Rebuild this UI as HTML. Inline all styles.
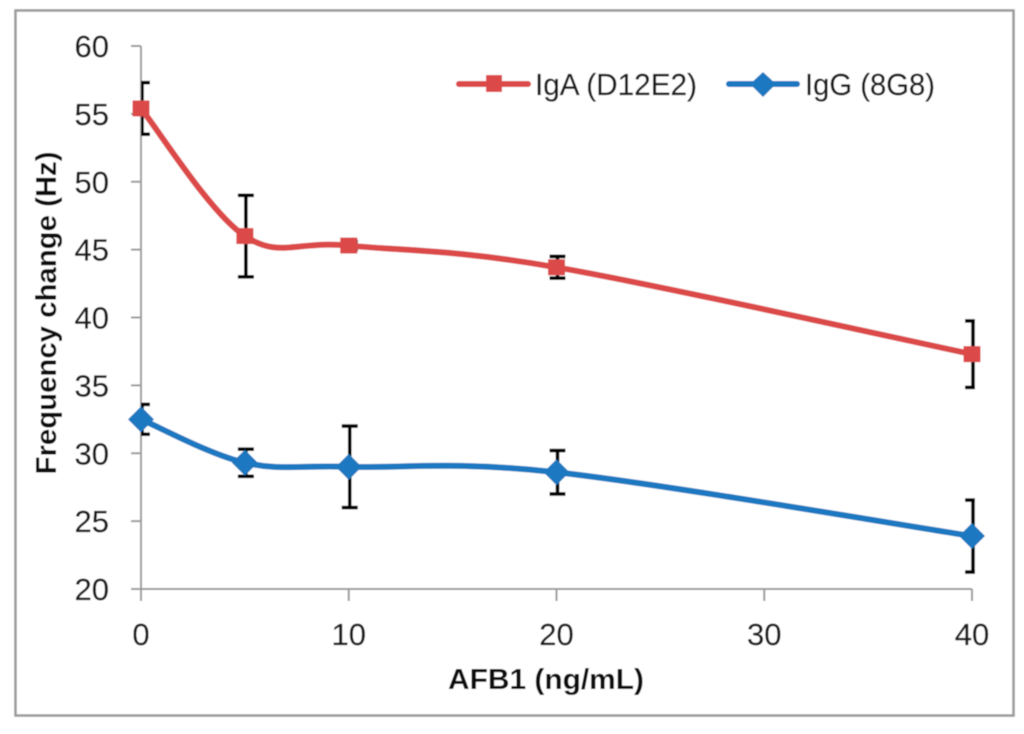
<!DOCTYPE html>
<html>
<head>
<meta charset="utf-8">
<title>Frequency change vs AFB1</title>
<style>
html,body{margin:0;padding:0;background:#fff;width:1024px;height:734px;overflow:hidden}
svg{display:block}
text{font-family:"Liberation Sans",sans-serif;fill:#1a1a1a}
.tick{font-size:31px;stroke:#1a1a1a;stroke-width:0.25px}
.title{font-size:29px;font-weight:bold;fill:#0d0d0d}
.legend{font-size:31px;stroke:#1a1a1a;stroke-width:0.25px}
</style>
</head>
<body>
<svg id="chart" width="1024" height="734" viewBox="0 0 1024 734" xmlns="http://www.w3.org/2000/svg">
  <defs>
    <clipPath id="plot-clip"><rect x="141" y="30" width="834" height="570"/></clipPath>
    <filter id="soft" x="-2%" y="-2%" width="104%" height="104%"><feGaussianBlur stdDeviation="0.55"/></filter>
  </defs>
  <rect x="0" y="0" width="1024" height="734" fill="#ffffff"/>
  <g filter="url(#soft)">
    <rect x="15.5" y="10.5" width="998" height="705" fill="#ffffff" stroke="#9a9a9a" stroke-width="2.5"/>
    <g id="axes"></g>
    <g id="errors" clip-path="url(#plot-clip)"></g>
    <g id="series"></g>
    <text class="title" transform="translate(56,313) rotate(-90)" text-anchor="middle" textLength="323" lengthAdjust="spacingAndGlyphs">Frequency change (Hz)</text>
    <text class="title" x="546" y="689" text-anchor="middle" textLength="196" lengthAdjust="spacingAndGlyphs">AFB1 (ng/mL)</text>
    <g>
      <line x1="459" y1="84" x2="528" y2="84" stroke="#dc4a4a" stroke-width="6" stroke-linecap="round"/>
      <rect x="486" y="75" width="16" height="17" fill="#dc4a4a"/>
      <text class="legend" x="535" y="95" textLength="162" lengthAdjust="spacingAndGlyphs">IgA (D12E2)</text>
      <line x1="729" y1="84" x2="797" y2="84" stroke="#1f78c0" stroke-width="6" stroke-linecap="round"/>
      <polygon points="763,72 776,84 763,97 750,84" fill="#1f78c0"/>
      <text class="legend" x="805" y="95" textLength="130" lengthAdjust="spacingAndGlyphs">IgG (8G8)</text>
    </g>
  </g>
</svg>
<script>
var doses = [0, 5, 10, 20, 40];
var igaValues = [55.4, 46, 45.3, 43.7, 37.3];
var igaErrors = [1.9, 3, 0.3, 0.8, 2.45];
var iggValues = [32.5, 29.3, 29, 28.6, 23.9];
var iggErrors = [1.1, 1, 3, 1.6, 2.65];
var xTicks = [0, 10, 20, 30, 40];
var yTicks = [20, 25, 30, 35, 40, 45, 50, 55, 60];

var NS = 'http://www.w3.org/2000/svg';
function xScale(v) { return 141 + (v - 0) * (972 - 141) / 40; }
function yScale(v) { return 589 - (v - 20) * (589 - 46) / 40; }
function make(tag, attrs, parent) {
  var el = document.createElementNS(NS, tag);
  for (var k in attrs) el.setAttribute(k, attrs[k]);
  parent.appendChild(el);
  return el;
}
var axes = document.getElementById('axes');
var errors = document.getElementById('errors');
var series = document.getElementById('series');
var axisStyle = { stroke: '#9b9b9b', 'stroke-width': 2 };
function line(x1, y1, x2, y2, parent, style) {
  var attrs = { x1: x1, y1: y1, x2: x2, y2: y2 };
  for (var k in style) attrs[k] = style[k];
  return make('line', attrs, parent);
}

var yAxis = line(xScale(0), yScale(60), xScale(0), yScale(20), axes, axisStyle);


var xAxis = line(xScale(0), yScale(20), xScale(40), yScale(20), axes, axisStyle);



yTicks.forEach(function (t) {
  var m = line(131, yScale(t), xScale(0), yScale(t), axes, axisStyle);
  
  
  var l = make('text', { x: 109, y: yScale(t) + 11, 'text-anchor': 'end', 'class': 'tick' }, axes);
  
  
  l.textContent = t;
});
xTicks.forEach(function (t) {
  var m = line(xScale(t), yScale(20), xScale(t), 601, axes, axisStyle);
  
  
  var l = make('text', { x: xScale(t), y: 645, 'text-anchor': 'middle', 'class': 'tick' }, axes);
  
  
  l.textContent = t;
});

function smoothPath(pts) {
  var d = 'M' + pts[0][0] + ' ' + pts[0][1];
  for (var i = 0; i < pts.length - 1; i++) {
    var p0 = pts[Math.max(i - 1, 0)], p1 = pts[i], p2 = pts[i + 1], p3 = pts[Math.min(i + 2, pts.length - 1)];
    var c1x = p1[0] + (p2[0] - p0[0]) / 6, c1y = p1[1] + (p2[1] - p0[1]) / 6;
    var c2x = p2[0] - (p3[0] - p1[0]) / 6, c2y = p2[1] - (p3[1] - p1[1]) / 6;
    d += 'C' + c1x + ' ' + c1y + ' ' + c2x + ' ' + c2y + ' ' + p2[0] + ' ' + p2[1];
  }
  return d;
}
function drawErrors(values, errs, prefix) {
  var style = { stroke: '#050505', 'stroke-width': 3.6 };
  values.forEach(function (v, i) {
    var x = xScale(doses[i]) + 1;
    var hi = yScale(v + errs[i]), lo = yScale(v - errs[i]);
    var stem = line(x, hi, x, lo, errors, style);
    
    
    var capTop = line(x - 8, hi, x + 8, hi, errors, style);
    
    
    var capBottom = line(x - 8, lo, x + 8, lo, errors, style);
    
    
  });
}
function pointsOf(values) {
  return values.map(function (v, i) { return [xScale(doses[i]), yScale(v)]; });
}

drawErrors(igaValues, igaErrors, 'iga');
drawErrors(iggValues, iggErrors, 'igg');

var igaLine = make('path', { d: smoothPath(pointsOf(igaValues)), fill: 'none', stroke: '#dc4a4a', 'stroke-width': 6, 'stroke-linecap': 'round' }, series);


var iggLine = make('path', { d: smoothPath(pointsOf(iggValues)), fill: 'none', stroke: '#1f78c0', 'stroke-width': 6, 'stroke-linecap': 'round' }, series);



pointsOf(igaValues).forEach(function (p) {
  var m = make('rect', { x: p[0] - 8.5, y: p[1] - 8, width: 17, height: 16, fill: '#dc4a4a' }, series);
  
  
});
pointsOf(iggValues).forEach(function (p) {
  var pts = [p[0] + ',' + (p[1] - 13), (p[0] + 13) + ',' + p[1], p[0] + ',' + (p[1] + 13), (p[0] - 13) + ',' + p[1]].join(' ');
  var m = make('polygon', { points: pts, fill: '#1f78c0' }, series);
  
  
});
</script>
</body>
</html>
